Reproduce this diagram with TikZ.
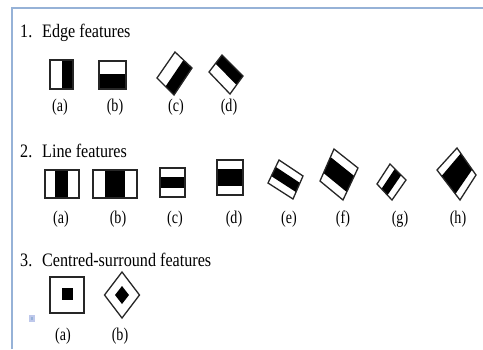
\documentclass[tikz,border=0pt]{standalone}
\usepackage{fontspec}
\usetikzlibrary{calc}
\setmainfont{Liberation Serif}
\newfontfamily\titlefont{Liberation Serif}[FakeStretch=0.85]
\newfontfamily\labfont{Liberation Serif}[FakeStretch=0.78]
\definecolor{bordblue}{RGB}{150,178,215}
\definecolor{iconblue}{RGB}{190,200,235}
\begin{document}
\begin{tikzpicture}[x=1pt,y=-1pt,
  title/.style={font=\titlefont\fontsize{19}{22}\selectfont, anchor=base west, inner sep=0pt},
  lab/.style={font=\labfont\fontsize{18}{20}\selectfont, inner sep=0pt},
  frame/.style={draw=black!85, line width=1.3pt, line join=miter},
  blk/.style={fill=black},
  border/.style={draw=bordblue, line width=2pt}]
\useasboundingbox (0,0) rectangle (483,349);
\fill[white] (0,0) rectangle (483,349);
\draw[border] (12,349) -- (12,8) -- (483,8);

% titles
\node[title] (n1) at (20,37) {1.};
\node[title] (t1) at (42,37) {Edge features};
\node[title] (n2) at (20,157) {2.};
\node[title] (t2) at (42,157) {Line features};
\node[title] (n3) at (20,266) {3.};
\node[title] (t3) at (42,266) {Centred-surround features};

% ---- edge features
\fill[blk] (62,60) rectangle (73,89);
\draw[frame] (50,60) rectangle (73,89);
\fill[blk] (99,74) rectangle (126,89);
\draw[frame] (99,61) rectangle (126,89);
% (c)
\coordinate (cT) at (175,52); \coordinate (cR) at (192,68);
\coordinate (cB) at (174,95); \coordinate (cL) at (157,78);
\fill[blk] ($(cT)!0.5!(cR)$) -- (cR) -- (cB) -- ($(cL)!0.5!(cB)$) -- cycle;
\draw[frame] (cT) -- (cR) -- (cB) -- (cL) -- cycle;
% (d)
\coordinate (dT) at (222,55); \coordinate (dR) at (243,76);
\coordinate (dB) at (230,94); \coordinate (dL) at (209,72);
\fill[blk] (dT) -- (dR) -- ($(dR)!0.5!(dB)$) -- ($(dL)!0.5!(dT)$) -- cycle;
\draw[frame] (dT) -- (dR) -- (dB) -- (dL) -- cycle;
\node[lab] (ea) at (60,107) {(a)};
\node[lab] (eb) at (115,107) {(b)};
\node[lab] (ec) at (176,107) {(c)};
\node[lab] (ed) at (229,107) {(d)};

% ---- line features
\fill[blk] (55,170) rectangle (68,198);
\draw[frame] (45,170) rectangle (79,198);
\fill[blk] (105,170) rectangle (125,198);
\draw[frame] (93,170) rectangle (137,198);
\fill[blk] (160,177) rectangle (185,188);
\draw[frame] (160,168) rectangle (185,197);
\fill[blk] (217,169) rectangle (243,186);
\draw[frame] (217,160) rectangle (243,195);
% (e)
\coordinate (eT) at (279,160); \coordinate (eR) at (303,176);
\coordinate (eB) at (293,199); \coordinate (eL) at (268,183);
\fill[blk] ($(eT)!0.3!(eL)$) -- ($(eT)!0.7!(eL)$) -- ($(eR)!0.7!(eB)$) -- ($(eR)!0.3!(eB)$) -- cycle;
\draw[frame] (eT) -- (eR) -- (eB) -- (eL) -- cycle;
% (f)
\coordinate (fT) at (334,149); \coordinate (fR) at (358,168);
\coordinate (fB) at (343,200); \coordinate (fL) at (320,181);
\fill[blk] ($(fT)!0.25!(fL)$) -- ($(fT)!0.75!(fL)$) -- ($(fR)!0.75!(fB)$) -- ($(fR)!0.25!(fB)$) -- cycle;
\draw[frame] (fT) -- (fR) -- (fB) -- (fL) -- cycle;
% (g)
\coordinate (gT) at (390,164); \coordinate (gR) at (406,180);
\coordinate (gB) at (392,200); \coordinate (gL) at (377,184);
\fill[blk] ($(gT)!0.3!(gR)$) -- ($(gT)!0.7!(gR)$) -- ($(gL)!0.7!(gB)$) -- ($(gL)!0.3!(gB)$) -- cycle;
\draw[frame] (gT) -- (gR) -- (gB) -- (gL) -- cycle;
% (h)
\coordinate (hT) at (457,148); \coordinate (hR) at (476,175);
\coordinate (hB) at (460,200); \coordinate (hL) at (437,170);
\fill[blk] ($(hT)!0.2!(hR)$) -- ($(hT)!0.8!(hR)$) -- ($(hL)!0.8!(hB)$) -- ($(hL)!0.2!(hB)$) -- cycle;
\draw[frame] (hT) -- (hR) -- (hB) -- (hL) -- cycle;
\node[lab] (la) at (61,219) {(a)};
\node[lab] (lb) at (118,219) {(b)};
\node[lab] (lc) at (175,219) {(c)};
\node[lab] (ld) at (234,219) {(d)};
\node[lab] (le) at (289,219) {(e)};
\node[lab] (lf) at (343,219) {(f)};
\node[lab] (lg) at (400,219) {(g)};
\node[lab] (lh) at (458,219) {(h)};

% ---- centre-surround features
\fill[blk] (62,288) rectangle (73,300);
\draw[frame] (50,277) rectangle (84,313);
\fill[blk] (122,286) -- (129,295) -- (122,304) -- (115,295) -- cycle;
\draw[frame] (122,272) -- (139.5,295) -- (122,318) -- (104.5,295) -- cycle;
\node[lab] (ca) at (63,336) {(a)};
\node[lab] (cb) at (120,336) {(b)};

% small icon
\fill[iconblue] (29,315) rectangle (35,322);
\fill[bordblue] (31,317) rectangle (33,320);
\end{tikzpicture}
\end{document}
